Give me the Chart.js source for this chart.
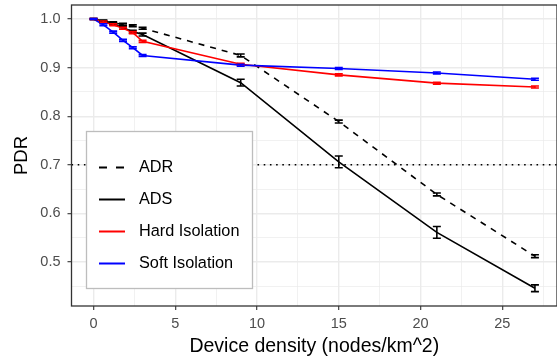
<!DOCTYPE html>
<html><head><meta charset="utf-8">
<script src="https://cdn.jsdelivr.net/npm/chart.js@4.4.0/dist/chart.umd.min.js"></script>
<style>html,body{margin:0;padding:0;background:#fff;overflow:hidden}</style>
</head><body>
<canvas id="c" width="557" height="358"></canvas>
<script>
// ---- data ----
const density = [0, 0.6, 1.2, 1.8, 2.4, 3, 9, 15, 21, 27];
const adrPdr  = [1.000, 0.996, 0.992, 0.989, 0.986, 0.981, 0.925, 0.789, 0.639, 0.512];
const adrErr  = [0.001, 0.002, 0.002, 0.002, 0.002, 0.002, 0.003, 0.003, 0.003, 0.003];
const adsPdr  = [1.000, 0.995, 0.990, 0.982, 0.974, 0.968, 0.869, 0.706, 0.561, 0.446];
const adsErr  = [0.001, 0.002, 0.002, 0.003, 0.003, 0.003, 0.007, 0.012, 0.012, 0.007];
const hardPdr = [1.000, 0.994, 0.988, 0.981, 0.972, 0.954, 0.907, 0.885, 0.868, 0.860];
const hardErr = [0.001, 0.002, 0.002, 0.002, 0.002, 0.002, 0.002, 0.002, 0.002, 0.002];
const softPdr = [1.000, 0.988, 0.973, 0.956, 0.941, 0.925, 0.905, 0.898, 0.889, 0.876];
const softErr = [0.001, 0.002, 0.002, 0.002, 0.002, 0.002, 0.002, 0.002, 0.002, 0.002];
const seriesNames = ['ADR', 'ADS', 'Hard Isolation', 'Soft Isolation'];
const xMajorTicks = [0, 5, 10, 15, 20, 25];
const xMinorTicks = [2.5, 7.5, 12.5, 17.5, 22.5, 27.5];
const yMajorTicks = [0.5, 0.6, 0.7, 0.8, 0.9, 1.0];
const yMinorTicks = [0.45, 0.55, 0.65, 0.75, 0.85, 0.95];
const threshold = 0.7;
const xTitle = 'Device density (nodes/km^2)';
const yTitle = 'PDR';

// ---- styles ----
const FONT = "'Liberation Sans', Arial, Helvetica, sans-serif";
const styles = [
  {color: '#000000', dash: [6, 6], legendDash: [8, 9]},
  {color: '#000000', dash: [], legendDash: []},
  {color: '#FF0000', dash: [], legendDash: []},
  {color: '#0000FF', dash: [], legendDash: []}
];
const pdrs = [adrPdr, adsPdr, hardPdr, softPdr];
const errs = [adrErr, adsErr, hardErr, softErr];

const datasets = pdrs.map((arr, i) => ({
  label: seriesNames[i],
  data: density.map((d, j) => ({x: d, y: arr[j]})),
  errors: errs[i],
  borderColor: styles[i].color,
  backgroundColor: styles[i].color,
  borderDash: styles[i].dash,
  borderWidth: 1.6,
  pointRadius: 0,
  tension: 0,
  fill: false,
  order: 4 - i
}));

function tickList(major, minor) {
  return major.map(v => ({value: v, major: true})).concat(minor.map(v => ({value: v, major: false})))
    .sort((a, b) => a.value - b.value);
}
const isMajor = (list, v) => list.some(m => Math.abs(m - v) < 1e-9);

const extras = {
  id: 'extras',
  beforeDatasetsDraw(chart) {
    const {ctx, chartArea: a, scales: {y}} = chart;
    const yy = y.getPixelForValue(threshold);
    ctx.save();
    ctx.beginPath();
    ctx.rect(a.left, a.top, a.right - a.left, a.bottom - a.top);
    ctx.clip();
    ctx.strokeStyle = '#000';
    ctx.lineWidth = 1.6;
    ctx.setLineDash([1.6, 4.6]);
    ctx.beginPath();
    ctx.moveTo(a.left, yy);
    ctx.lineTo(a.right, yy);
    ctx.stroke();
    ctx.restore();
  },
  afterDatasetsDraw(chart) {
    const {ctx, chartArea: a, scales: {x, y}} = chart;
    ctx.save();
    ctx.beginPath();
    ctx.rect(a.left, a.top, a.right - a.left, a.bottom - a.top);
    ctx.clip();
    chart.data.datasets.forEach((ds, i) => {
      ctx.strokeStyle = ds.borderColor;
      ctx.lineWidth = 1.6;
      ctx.setLineDash([]);
      ds.data.forEach((p, j) => {
        const e = ds.errors[j];
        const px = x.getPixelForValue(p.x);
        const y1 = y.getPixelForValue(p.y + e);
        const y2 = y.getPixelForValue(p.y - e);
        const cap = 4;
        ctx.beginPath();
        ctx.moveTo(px, y1); ctx.lineTo(px, y2);
        ctx.moveTo(px - cap, y1); ctx.lineTo(px + cap, y1);
        ctx.moveTo(px - cap, y2); ctx.lineTo(px + cap, y2);
        ctx.stroke();
      });
    });
    ctx.restore();
    // panel border
    ctx.save();
    ctx.strokeStyle = '#333333';
    ctx.lineWidth = 1.3;
    ctx.strokeRect(a.left, a.top, a.right - a.left, a.bottom - a.top);
    ctx.restore();
  },
  afterDraw(chart) {
    const {ctx} = chart;
    ctx.save();
    // legend box
    const bx = 86.5, by = 131.5, bw = 166, bh = 157;
    ctx.fillStyle = '#FFFFFF';
    ctx.fillRect(bx, by, bw, bh);
    ctx.strokeStyle = '#BDBDBD';
    ctx.lineWidth = 1.3;
    ctx.strokeRect(bx, by, bw, bh);
    const rowY = [167.5, 199.5, 231.5, 263.5];
    chart.data.datasets.forEach((ds, i) => {
      ctx.strokeStyle = ds.borderColor;
      ctx.lineWidth = 2;
      ctx.setLineDash(styles[i].legendDash);
      ctx.beginPath();
      ctx.moveTo(99, rowY[i]);
      ctx.lineTo(125, rowY[i]);
      ctx.stroke();
      ctx.setLineDash([]);
      ctx.fillStyle = '#000000';
      ctx.font = '16.3px ' + FONT;
      ctx.textBaseline = 'middle';
      ctx.textAlign = 'left';
      ctx.fillText(ds.label, 139, rowY[i] + 0.5);
    });
    ctx.restore();
  }
};

new Chart(document.getElementById('c'), {
  type: 'line',
  data: {datasets},
  plugins: [extras],
  options: {
    responsive: false,
    animation: false,
    devicePixelRatio: 1,
    layout: {padding: {top: 5, right: -5, bottom: 0, left: 0}},
    plugins: {legend: {display: false}, tooltip: {enabled: false}},
    scales: {
      x: {
        type: 'linear',
        min: -1.35,
        max: 28.35,
        afterBuildTicks: s => { s.ticks = tickList(xMajorTicks, xMinorTicks); },
        afterFit: s => { s.height = 52; s.paddingLeft = 0; s.paddingRight = 0; },
        border: {display: false},
        grid: {
          color: '#EBEBEB',
          lineWidth: c => (c.tick && c.tick.major) ? 1.4 : 0.7,
          drawTicks: true,
          tickLength: 4,
          tickWidth: 1.1,
          tickColor: c => (c.tick && c.tick.major) ? '#333333' : 'rgba(0,0,0,0)'
        },
        ticks: {
          autoSkip: false,
          maxRotation: 0,
          padding: 5,
          color: '#4D4D4D',
          font: {family: FONT, size: 14.5},
          callback: v => isMajor(xMajorTicks, v) ? String(v) : ''
        },
        title: {display: true, text: xTitle, color: '#000', font: {family: FONT, size: 19.5}, padding: {top: 0, bottom: 0}}
      },
      y: {
        type: 'linear',
        min: 0.4095,
        max: 1.0288,
        afterBuildTicks: s => { s.ticks = tickList(yMajorTicks, yMinorTicks); },
        afterFit: s => { s.width = 71.5; s.paddingTop = 0; s.paddingBottom = 0; },
        border: {display: false},
        grid: {
          color: '#EBEBEB',
          lineWidth: c => (c.tick && c.tick.major) ? 1.4 : 0.7,
          drawTicks: true,
          tickLength: 4,
          tickWidth: 1.1,
          tickColor: c => (c.tick && c.tick.major) ? '#333333' : 'rgba(0,0,0,0)'
        },
        ticks: {
          autoSkip: false,
          padding: 7,
          color: '#4D4D4D',
          font: {family: FONT, size: 14.5},
          callback: v => isMajor(yMajorTicks, v) ? v.toFixed(1) : ''
        },
        title: {display: true, text: yTitle, color: '#000', font: {family: FONT, size: 18.5}, padding: {top: 10.5, bottom: 0}}
      }
    }
  }
});
</script>
</body></html>
